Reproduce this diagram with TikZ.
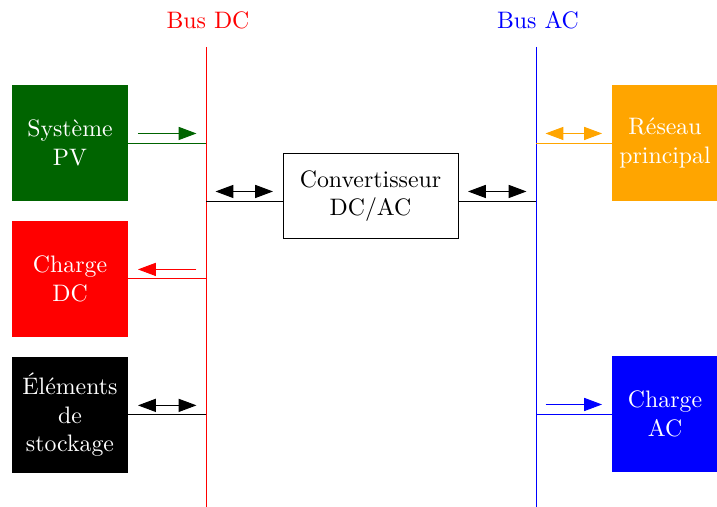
\documentclass[tikz,border=0pt]{standalone}
\usepackage{fontspec}
\usepackage{xcolor}
\usepackage{tikz}
\usetikzlibrary{arrows.meta, positioning}

\definecolor{pvgreen}{RGB}{0,100,0}
\definecolor{gridorange}{RGB}{255,165,0}

\begin{document}
\begin{tikzpicture}[
  x=0.42pt, y=-0.42pt,
  node distance = 8pt and 32pt,
  src/.style = {rectangle, minimum width=48.7pt, minimum height=48.7pt,
                inner sep=1pt, align=center, text=white},
  conv/.style = {rectangle, draw, minimum width=73.5pt, minimum height=36.1pt,
                 align=center},
  arr/.style = {-{Triangle[length=7.5pt,width=5.5pt]}},
  biarr/.style = {{Triangle[length=7.5pt,width=5.5pt]}-{Triangle[length=7.5pt,width=5.5pt]}}
]
  \useasboundingbox (0,0) rectangle (717,507);

  % buses
  \coordinate (dctop) at (206,47);
  \coordinate (dcbot) at (206,507);
  \coordinate (actop) at (536,47);
  \coordinate (acbot) at (536,507);
  \draw[red]  (dctop) -- (dcbot);
  \draw[blue] (actop) -- (acbot);
  \node[red]  (dclabel) at (208,20) {Bus DC};
  \node[blue] (aclabel) at (538,20) {Bus AC};

  % sources and loads
  \node[src, fill=pvgreen] (pv) at (70,143) {Système\\PV};
  \node[src, fill=red,   below=of pv]   (chdc)  {Charge\\DC};
  \node[src, fill=black, below=of chdc] (stock) {Éléments\\de\\stockage};
  \node[src, fill=gridorange, minimum width=44.5pt] (grid) at (665,143) {Réseau\\principal};
  \node[src, fill=blue, minimum width=44.5pt] (chac) at (665,414) {Charge\\AC};
  \node[conv] (conv) at (370.5,196) {Convertisseur\\DC/AC};

  \coordinate (pvbus)    at (pv.east -| dctop);
  \coordinate (chdcbus)  at (chdc.east -| dctop);
  \coordinate (stockbus) at (stock.east -| dctop);
  \coordinate (gridbus)  at (grid.west -| actop);
  \coordinate (chacbus)  at (chac.west -| actop);
  \coordinate (cvl) at ([yshift=-2.1pt]conv.west);
  \coordinate (cvr) at ([yshift=-2.1pt]conv.east);
  \coordinate (cvldc) at (cvl -| dctop);
  \coordinate (cvrac) at (cvr -| actop);

  % links
  \draw[pvgreen] (pv.east) -- (pvbus);
  \draw[red]     (chdc.east) -- (chdcbus);
  \draw          (stock.east) -- (stockbus);
  \draw          (cvldc) -- (cvl);
  \draw          (cvr) -- (cvrac);
  \draw[gridorange] (gridbus) -- (grid.west);
  \draw[blue]    (chacbus) -- (chac.west);

  % power flow
  \draw[pvgreen, arr] ([xshift=4pt,yshift=4pt]pv.east) -- ([xshift=-4pt,yshift=4pt]pvbus);
  \draw[red, arr] ([xshift=-4pt,yshift=4pt]chdcbus) -- ([xshift=4pt,yshift=4pt]chdc.east);
  \draw[biarr] ([xshift=4pt,yshift=4pt]stock.east) -- ([xshift=-4pt,yshift=4pt]stockbus);
  \draw[biarr] ([xshift=4pt,yshift=4pt]cvldc) -- ([xshift=-4pt,yshift=4pt]cvl);
  \draw[biarr] ([xshift=4pt,yshift=4pt]cvr) -- ([xshift=-4pt,yshift=4pt]cvrac);
  \draw[gridorange, biarr] ([xshift=4pt,yshift=4pt]gridbus) -- ([xshift=-4pt,yshift=4pt]grid.west);
  \draw[blue, arr] ([xshift=4pt,yshift=4pt]chacbus) -- ([xshift=-4pt,yshift=4pt]chac.west);
\end{tikzpicture}
\end{document}
